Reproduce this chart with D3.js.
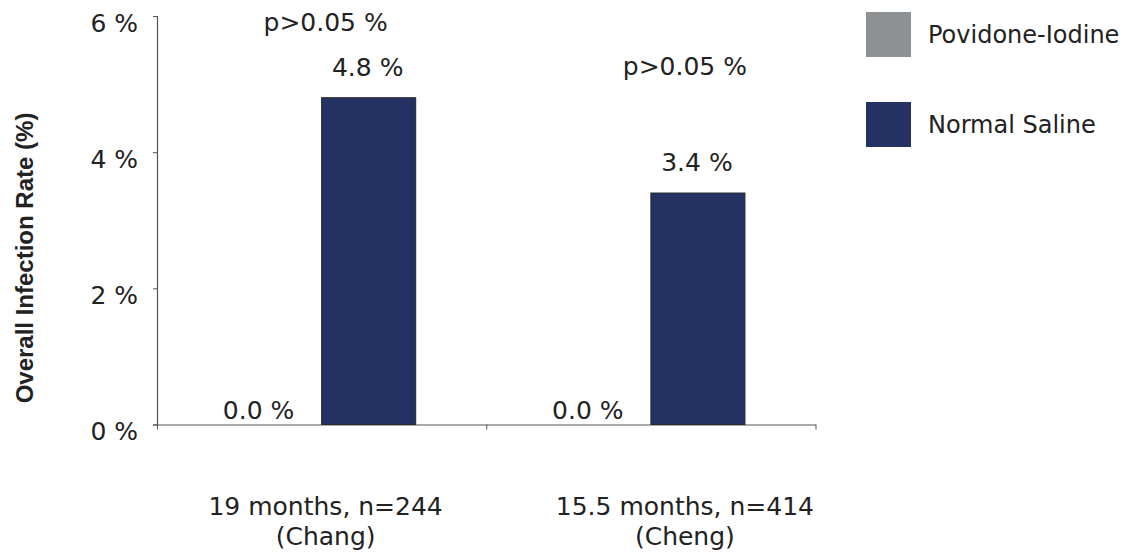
<!DOCTYPE html>
<html>
<head>
<meta charset="utf-8">
<script src="https://cdn.jsdelivr.net/npm/d3@7"></script>
<style>
  html, body { margin: 0; padding: 0; background: #ffffff; }
  svg { display: block; }
  text { font-family: "DejaVu Sans", sans-serif; fill: #222222; }
</style>
</head>
<body>
<svg id="chart" width="1127" height="555"></svg>
<script>
// Study groups (x categories), each label split over two lines
const categories = ["Chang", "Cheng"];
const categoryLines = [
  ["19 months, n=244", "(Chang)"],
  ["15.5 months, n=414", "(Cheng)"]
];
// Series: overall infection rate (%) per study
const seriesNames = ["Povidone-Iodine", "Normal Saline"];
const povidoneIodine = [0.0, 0.0];
const normalSaline = [4.8, 3.4];
// Significance notes drawn above each group
const pValueLabels = ["p>0.05 %", "p>0.05 %"];
// Y axis ticks
const yTicks = [0, 2, 4, 6];

const colors = { "Povidone-Iodine": "#8e9194", "Normal Saline": "#233163" };

const svg = d3.select("#chart");

// Plot frame
const plotLeft = 157, plotRight = 815.5, plotTop = 16, plotBottom = 424.5;

const y = d3.scaleLinear().domain([0, 6]).range([plotBottom, plotTop]);
const x0 = d3.scaleBand().domain(categories).range([plotLeft, plotRight]).padding(0);
const x1 = d3.scaleBand().domain(seriesNames)
  .range([0, x0.bandwidth()]).paddingInner(0).paddingOuter(0.75);

// Group-specific horizontal nudges for the text that sits over each group
const groupTextShift = [4, 34];
// Heights (in % units) where the p-value notes sit
const pNoteLevel = [5.78, 5.13];

const rows = categories.map((c, i) => ({
  cat: c, i,
  values: [
    { series: seriesNames[0], value: povidoneIodine[i] },
    { series: seriesNames[1], value: normalSaline[i] }
  ]
}));

// Axes
const yAxis = d3.axisLeft(y).tickValues(yTicks).tickSize(4).tickFormat(d => d + " %");
const gy = svg.append("g").attr("transform", `translate(${plotLeft},0)`).call(yAxis);
gy.select(".domain").attr("stroke", "#555").attr("stroke-width", 1.2);
gy.selectAll(".tick line").attr("stroke", "#555");
gy.selectAll(".tick text")
  .attr("x", -19).attr("dy", null).attr("y", 15)
  .style("font-family", "'DejaVu Sans', sans-serif")
  .style("font-size", "25px").attr("fill", "#222");

const xTickScale = d3.scaleLinear().domain([0, categories.length]).range([plotLeft, plotRight]);
const gx = svg.append("g").attr("transform", `translate(0,${plotBottom})`)
  .call(d3.axisBottom(xTickScale).tickValues(d3.range(categories.length + 1))
    .tickSize(5).tickSizeOuter(0).tickFormat(""));
gx.select(".domain").attr("stroke", "#555").attr("stroke-width", 1.2);
gx.selectAll(".tick line").attr("stroke", "#555");

// Bars
const groups = svg.append("g").selectAll("g").data(rows).join("g")
  .attr("transform", d => `translate(${x0(d.cat)},0)`);

groups.selectAll("rect").data(d => d.values).join("rect")
  .attr("x", d => x1(d.series))
  .attr("width", x1.bandwidth())
  .attr("y", d => y(d.value))
  .attr("height", d => y(0) - y(d.value))
  .attr("fill", d => colors[d.series])
  .attr("stroke", d => d.value > 0 ? "#2a2a2a" : "none")
  .attr("stroke-width", 1);

// Value labels
groups.selectAll("text.val").data(d => d.values).join("text")
  .attr("class", "val")
  .attr("x", d => x1(d.series) + x1.bandwidth() / 2 + (d.value > 0 ? -1 : -16))
  .attr("y", d => d.value > 0 ? y(d.value) - 22 : y(0) - 6)
  .attr("text-anchor", "middle")
  .style("font-size", "25px")
  .text(d => d.value.toFixed(1) + " %");

// p-value notes
svg.append("g").selectAll("text").data(pValueLabels).join("text")
  .attr("x", (d, i) => x0(categories[i]) + x0.bandwidth() / 2 + groupTextShift[i])
  .attr("y", (d, i) => y(pNoteLevel[i]))
  .attr("text-anchor", "middle")
  .style("font-size", "25px")
  .text(d => d);

// Category labels under the axis
const catLabels = svg.append("g").selectAll("text").data(categoryLines).join("text")
  .attr("text-anchor", "middle")
  .style("font-size", "25px");
catLabels.selectAll("tspan").data((d, i) => d.map(s => ({ s, i }))).join("tspan")
  .attr("x", d => x0(categories[d.i]) + x0.bandwidth() / 2 + groupTextShift[d.i])
  .attr("y", (d, j) => 515 + j * 30)
  .text(d => d.s);

// Y axis title
svg.append("text")
  .attr("transform", "translate(33,258) rotate(-90)")
  .attr("text-anchor", "middle")
  .style("font-family", "'Liberation Sans', Arial, sans-serif")
  .style("font-weight", "bold")
  .style("font-size", "24px")
  .text("Overall Infection Rate (%)");

// Legend
const legend = svg.append("g").selectAll("g").data(seriesNames).join("g")
  .attr("transform", (d, i) => `translate(866,${12 + i * 90})`);
legend.append("rect").attr("width", 45).attr("height", 45)
  .attr("fill", d => colors[d]);
legend.append("text").attr("x", 62).attr("y", 31)
  .style("font-size", "24px")
  .text(d => d);
</script>
</body>
</html>
